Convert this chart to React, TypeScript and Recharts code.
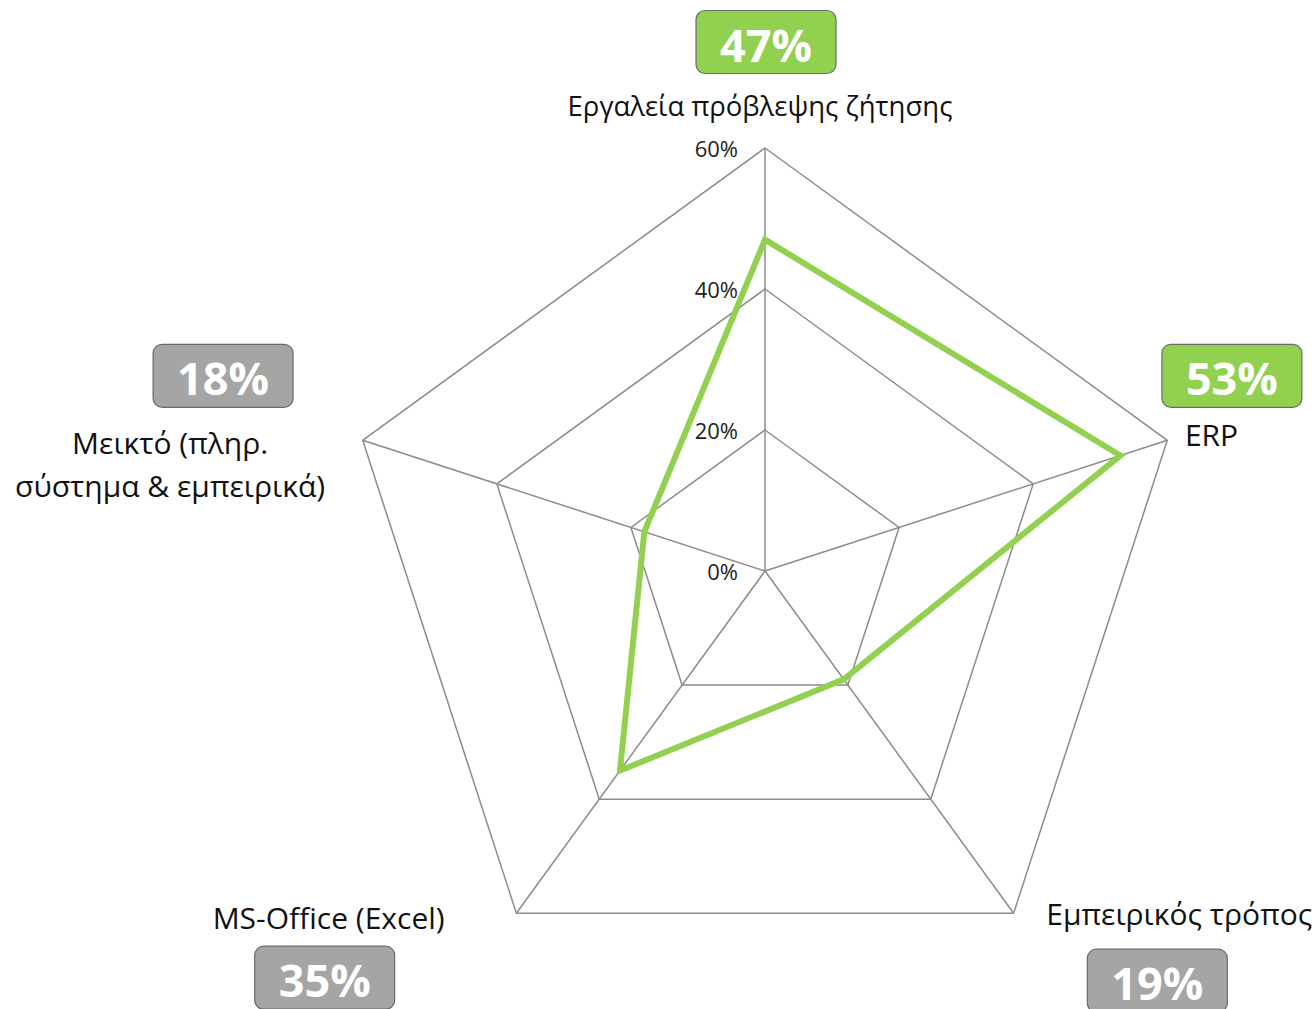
import { RadarChart, Radar, PolarGrid, PolarAngleAxis, PolarRadiusAxis } from "recharts";

const categories = [
  "Εργαλεία πρόβλεψης ζήτησης",
  "ERP",
  "Εμπειρικός τρόπος",
  "MS-Office (Excel)",
  "Μεικτό (πληρ. σύστημα & εμπειρικά)",
];
const labelLines = [
  ["Εργαλεία πρόβλεψης ζήτησης"],
  ["ERP"],
  ["Εμπειρικός τρόπος"],
  ["MS-Office (Excel)"],
  ["Μεικτό (πληρ.", "σύστημα & εμπειρικά)"],
];
const shares = [47, 53, 19, 35, 18];
const highlighted = [true, true, false, false, false];
const radiusTicks = [0, 20, 40, 60];

const data = categories.map((name, i) => ({ name, share: shares[i] }));

const GREEN = "#92D050";
const GREY = "#A5A5A5";
const FONT = "'Open Sans', sans-serif";

// label/badge placement relative to the tick point Recharts hands over
const layout = [
  { anchor: "middle", size: 27.5, tx: -5, ty: -35, bx: 1, by: -98 },
  { anchor: "start", size: 30, tx: 10, ty: -3, bx: 57, by: -62 },
  { anchor: "start", size: 30, tx: 28, ty: -6, bx: 139, by: 61 },
  { anchor: "end", size: 30, tx: -67, ty: -2, bx: -187, by: 58 },
  { anchor: "middle", size: 30, tx: -185, ty: 5, bx: -132, by: -62 },
];

const AngleTick = (props: any) => {
  const { x, y, payload } = props;
  const i = categories.indexOf(payload.value);
  if (i < 0) return null;
  const l = layout[i];
  const lines = labelLines[i];
  const bw = 140;
  const bh = 63;
  return (
    <g>
      {lines.map((t, k) => (
        <text
          key={k}
          x={x + l.tx}
          y={y + l.ty + k * 43}
          textAnchor={l.anchor}
          dominantBaseline="central"
          fontFamily={FONT}
          fontSize={l.size}
          fill="#111"
        >
          {t}
        </text>
      ))}
      <rect
        x={x + l.bx - bw / 2}
        y={y + l.by - bh / 2}
        width={bw}
        height={bh}
        rx={9}
        fill={highlighted[i] ? GREEN : GREY}
        stroke="#6b6b6b"
        strokeWidth={1.2}
      />
      <text
        x={x + l.bx}
        y={y + l.by + 2}
        textAnchor="middle"
        dominantBaseline="central"
        fontFamily={FONT}
        fontWeight={700}
        fontSize={45}
        fill="#fff"
      >
        {shares[i]}%
      </text>
    </g>
  );
};

const RadiusTick = (props: any) => {
  const { x, y, payload } = props;
  return (
    <text x={x - 27} y={y} textAnchor="end" dominantBaseline="central" fontFamily={FONT} fontSize={22} fill="#222">
      {payload.value}%
    </text>
  );
};

export default function App() {
  return (
    <div style={{ position: "absolute", left: 0, top: 0, width: 1315, height: 1009, background: "#fff", overflow: "hidden" }}>
      <RadarChart width={1315} height={1009} cx={765} cy={571} outerRadius={423} data={data} margin={{ top: 0, right: 0, bottom: 0, left: 0 }}>
        <PolarGrid gridType="polygon" stroke="#8c8c8c" strokeWidth={1.5} />
        <PolarAngleAxis dataKey="name" tick={AngleTick} axisLine={false} tickLine={false} />
        <PolarRadiusAxis
          angle={90}
          domain={[0, 60]}
          ticks={radiusTicks}
          tickCount={4}
          tick={RadiusTick}
          axisLine={false}
          tickLine={false}
        />
        <Radar dataKey="share" stroke={GREEN} strokeWidth={6} fill="none" fillOpacity={0} dot={false} isAnimationActive={false} />
      </RadarChart>
    </div>
  );
}
